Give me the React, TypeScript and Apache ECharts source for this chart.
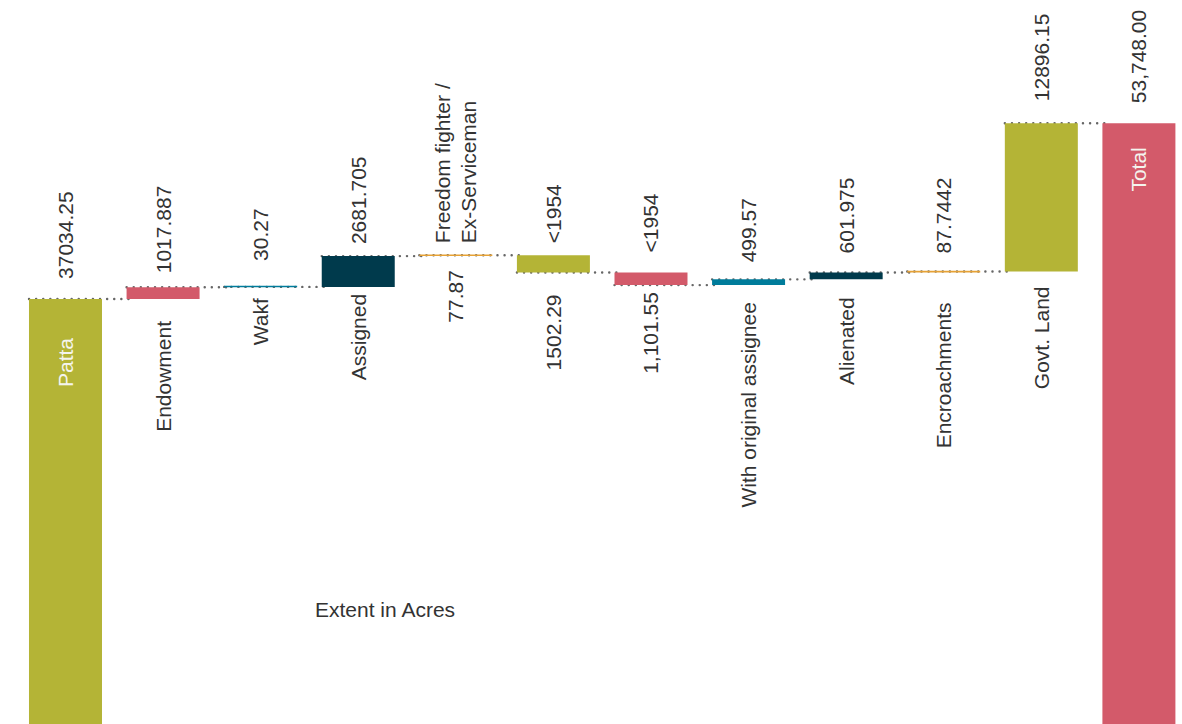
import React, { useEffect, useRef } from "react";
import * as echarts from "echarts";

// ---- data ----
const categories: string[] = [
  "Patta",
  "Endowment",
  "Wakf",
  "Assigned",
  "Freedom fighter /\nEx-Serviceman",
  "<1954",
  "<1954",
  "With original assignee",
  "Alienated",
  "Encroachments",
  "Govt. Land",
  "Total",
];
// signed steps of the waterfall (the last category, Total, is the running sum)
const steps: number[] = [
  37034.25, 1017.887, 30.27, 2681.705, 77.87, -1502.29, -1101.55, 499.57, 601.975, 87.7442,
  12896.15,
];
const valueLabels: string[] = [
  "37034.25",
  "1017.887",
  "30.27",
  "2681.705",
  "77.87",
  "1502.29",
  "1,101.55",
  "499.57",
  "601.975",
  "87.7442",
  "12896.15",
  "53,748.00",
];
const axisTitle = "Extent in Acres";

// ---- styles ----
const OLIVE = "#b4b436";
const PINK = "#d35a6a";
const TEAL = "#007c9b";
const NAVY = "#003a4c";
const ORANGE = "#e6a236";
const palette = [OLIVE, PINK, TEAL, NAVY, ORANGE];
const TEXT = "#333333";
const FONT = "21px 'Liberation Sans', Arial, sans-serif";
const BAR_W = 73;

// label placement per category (style only)
const valueSide = ["top", "top", "top", "top", "bottom", "bottom", "bottom", "top", "top", "top", "top", "top"];
const nameSide = ["inside", "bottom", "bottom", "bottom", "top", "top", "top", "bottom", "bottom", "bottom", "bottom", "inside"];
const valueGap = [20, 14, 26, 12, 14, 22, 7, 17, 19, 18, 22, 20];
const nameGap = [39, 22, 11, 7, 12, 12, 20, 17, 18, 30, 15, 24];

// ---- derived waterfall geometry (from the data) ----
const starts: number[] = [];
const ends: number[] = [];
let running = 0;
steps.forEach((d) => {
  starts.push(running);
  running += d;
  ends.push(running);
});
starts.push(0);
ends.push(running);
const lows = starts.map((s, i) => Math.min(s, ends[i]));
const highs = starts.map((s, i) => Math.max(s, ends[i]));

export default function App() {
  const ref = useRef<HTMLDivElement>(null);

  useEffect(() => {
    if (!ref.current) return;
    const chart = echarts.init(ref.current, undefined, { renderer: "svg" });

    const mkText = (
      text: string,
      side: string,
      gap: number,
      cx: number,
      yTop: number,
      yBot: number
    ) => {
      const base: any = {
        type: "text",
        x: cx,
        rotation: Math.PI / 2,
        style: {
          text,
          font: FONT,
          fill: TEXT,
          verticalAlign: "middle",
          lineHeight: 26,
        },
      };
      if (side === "top") {
        base.y = yTop - gap;
        base.style.align = "left";
      } else if (side === "bottom") {
        base.y = yBot + gap;
        base.style.align = "right";
      } else {
        base.y = yTop + gap;
        base.style.align = "right";
        base.style.fill = "#f4f4ee";
      }
      return base;
    };

    const option: any = {
      animation: false,
      grid: { left: 16.7, top: 35, width: 1171, height: 689.6 },
      xAxis: {
        type: "category",
        data: categories,
        show: false,
        boundaryGap: true,
      },
      yAxis: { type: "value", min: 0, max: 60000, show: false },
      graphic: [
        {
          type: "text",
          left: 315,
          top: 599,
          style: { text: axisTitle, font: FONT, fill: TEXT },
        },
      ],
      series: [
        {
          type: "custom",
          name: "connectors",
          z: 1,
          clip: false,
          silent: true,
          data: steps.map((_, i) => [i, ends[i]]),
          renderItem: (params: any, api: any) => {
            const i = params.dataIndex;
            const p = api.coord([i, ends[i]]);
            const band = api.size([1, 0])[0];
            const half = BAR_W / 2;
            return {
              type: "line",
              shape: { x1: p[0] - half, y1: p[1], x2: p[0] + band - half + 8, y2: p[1] },
              style: {
                stroke: "#666666",
                lineWidth: 2.4,
                lineDash: [0.1, 7],
                lineCap: "round",
              },
            };
          },
        },
        {
          type: "bar",
          stack: "wf",
          z: 2,
          barWidth: BAR_W,
          silent: true,
          itemStyle: { color: "transparent" },
          data: lows,
        },
        {
          type: "bar",
          stack: "wf",
          z: 2,
          barWidth: BAR_W,
          barMinHeight: 1.6,
          silent: true,
          data: highs.map((h, i) => ({
            value: h - lows[i],
            itemStyle: { color: palette[i % palette.length] },
          })),
        },
        {
          type: "custom",
          name: "labels",
          z: 3,
          clip: false,
          silent: true,
          data: categories.map((_, i) => [i, lows[i], highs[i]]),
          renderItem: (params: any, api: any) => {
            const i = params.dataIndex;
            const cx = api.coord([i, 0])[0];
            const yTop = api.coord([i, highs[i]])[1];
            const yBot = api.coord([i, lows[i]])[1];
            return {
              type: "group",
              children: [
                mkText(valueLabels[i], valueSide[i], valueGap[i], cx, yTop, yBot),
                mkText(categories[i], nameSide[i], nameGap[i], cx, yTop, yBot),
              ],
            };
          },
        },
      ],
    };

    chart.setOption(option);
    return () => chart.dispose();
  }, []);

  return (
    <div
      style={{
        position: "fixed",
        left: 0,
        top: 0,
        width: 1182,
        height: 724,
        overflow: "hidden",
        background: "#ffffff",
      }}
    >
      <div ref={ref} style={{ width: 1200, height: 726 }} />
    </div>
  );
}
